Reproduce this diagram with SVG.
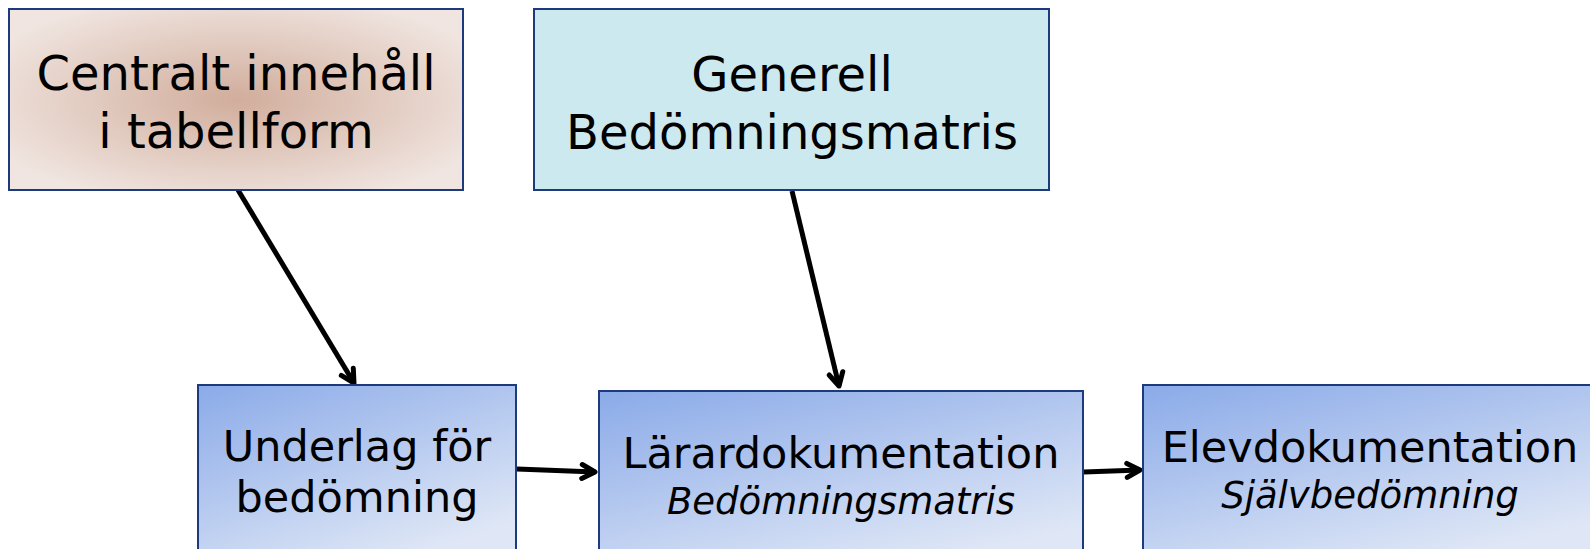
<svg xmlns="http://www.w3.org/2000/svg" width="1590" height="549" viewBox="0 0 1590 549">
<style>
.box{stroke:#1c3a7c;stroke-width:2}
.t{font-family:"DejaVu Sans",Verdana,sans-serif;fill:#000;text-anchor:middle}
.big{font-size:48px}
.mid{font-size:43px}
.it{font-style:italic;font-size:37px}
.conn{stroke:#000;stroke-width:5;fill:none;marker-end:url(#ah)}
</style>
<defs>
<radialGradient id="brown" cx="0.5" cy="0.5" r="0.6">
<stop offset="0" stop-color="#d1ad9c"/>
<stop offset="1" stop-color="#f0e5e0"/>
</radialGradient>
<linearGradient id="blue" x1="0" y1="0" x2="0.6" y2="1">
<stop offset="0" stop-color="#8aaae8"/>
<stop offset="1" stop-color="#dfe7f6"/>
</linearGradient>
<marker id="ah" viewBox="0 0 10 10" refX="8.5" refY="5" markerWidth="4" markerHeight="4" orient="auto" markerUnits="strokeWidth">
<path d="M2,1.5 L8.5,5 L2,8.5" fill="none" stroke="#000" stroke-width="2.5" stroke-linecap="round" stroke-linejoin="round"/>
</marker>
</defs>
<g id="connectors">
<line class="conn" x1="238" y1="190" x2="354" y2="383"/>
<line class="conn" x1="792" y1="191" x2="839" y2="386"/>
<line class="conn" x1="517" y1="469" x2="595" y2="472"/>
<line class="conn" x1="1084" y1="472" x2="1140" y2="470"/>
</g>
<g id="n1">
<rect class="box" x="9" y="9" width="454" height="181" fill="url(#brown)"/>
<text class="t big" x="236" y="90">Centralt innehåll</text>
<text class="t big" x="236" y="148">i tabellform</text>
</g>
<g id="n2">
<rect class="box" x="534" y="9" width="515" height="181" fill="#cde9f0"/>
<text class="t big" x="792" y="91">Generell</text>
<text class="t big" x="792" y="149">Bedömningsmatris</text>
</g>
<g id="n3">
<rect class="box" x="198" y="385" width="318" height="180" fill="url(#blue)"/>
<text class="t mid" x="357" y="461">Underlag för</text>
<text class="t mid" x="357" y="512">bedömning</text>
</g>
<g id="n4">
<rect class="box" x="599" y="391" width="484" height="180" fill="url(#blue)"/>
<text class="t mid" x="841" y="468">Lärardokumentation</text>
<text class="t it" x="841" y="514">Bedömningsmatris</text>
</g>
<g id="n5">
<rect class="box" x="1143" y="385" width="460" height="180" fill="url(#blue)"/>
<text class="t mid" x="1370" y="462">Elevdokumentation</text>
<text class="t it" x="1370" y="508">Självbedömning</text>
</g>
</svg>
